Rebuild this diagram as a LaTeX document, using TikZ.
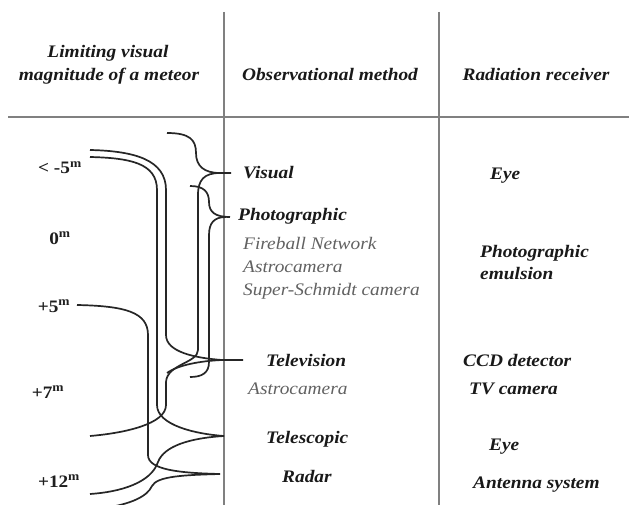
\documentclass[tikz,border=0pt]{standalone}
\usepackage{fontspec}
\setmainfont{Liberation Serif}[FakeStretch=1.1]
\begin{document}
\begin{tikzpicture}[x=1pt,y=-1pt,
  base/.style={inner sep=0pt, text height=12pt, text depth=0pt},
  hd/.style={base, font=\fontsize{17.6}{21}\selectfont\bfseries\itshape, text=black!90},
  mth/.style={hd, anchor=west},
  sub/.style={base, anchor=west, font=\fontsize{17.6}{21}\selectfont\itshape, text=black!62},
  lab/.style={base, font=\fontsize{17.5}{20}\selectfont\bfseries, text=black!88},
  curve/.style={draw=black!85, line width=1.7pt},
  rule/.style={draw=black!50, line width=1.3pt}]
\useasboundingbox (0,0) rectangle (629,505);
\fill[white] (0,0) rectangle (629,505);
\begin{scope}
\clip (0,0) rectangle (629,505);
% table rules
\coordinate (hl) at (8,117); \coordinate (hr) at (629,117);
\coordinate (d1t) at (224,12); \coordinate (d1b) at (224,505);
\coordinate (d2t) at (439,12); \coordinate (d2b) at (439,505);
\draw[rule] (hl) -- (hr);
\draw[rule] (d1t) -- (d1b);
\draw[rule] (d2t) -- (d2b);

% headers
\node[hd] (h1a) at (108,52) {Limiting visual};
\node[hd] (h1b) at (109,75) {magnitude of a meteor};
\node[hd] (h2) at (330,75) {Observational method};
\node[hd] (h3) at (536,75) {Radiation receiver};

% magnitude labels
\node[lab] (m1) at (60,168) {< -5\textsuperscript{m}};
\node[lab] (m2) at (60,238) {0\textsuperscript{m}};
\node[lab] (m3) at (54,306) {+5\textsuperscript{m}};
\node[lab] (m4) at (48,392) {+7\textsuperscript{m}};
\node[lab] (m5) at (59,481) {+12\textsuperscript{m}};

% methods
\node[mth] (vis) at (243,173) {Visual};
\node[mth] (pho) at (238,215) {Photographic};
\node[sub] (fb) at (243,243) {Fireball Network};
\node[sub] (ac1) at (243,266) {Astrocamera};
\node[sub] (ss) at (243,289) {Super-Schmidt camera};
\node[mth] (tv) at (266,360) {Television};
\node[sub] (ac2) at (248,388) {Astrocamera};
\node[mth] (tel) at (266,437) {Telescopic};
\node[mth] (rad) at (282,476) {Radar};

% receivers
\node[mth] (eye1) at (490,174) {Eye};
\node[mth] (pe1) at (480,251) {Photographic};
\node[mth] (pe2) at (480,273) {emulsion};
\node[mth] (ccd) at (463,360) {CCD detector};
\node[mth] (tvc) at (469,388) {TV camera};
\node[mth] (eye2) at (489,444) {Eye};
\node[mth] (ant) at (473,482) {Antenna system};

% brace coordinates
\coordinate (visA) at (167,133);
\coordinate (visTip) at (220,173);
\coordinate (visT) at (231,173);
\coordinate (phoA) at (190,186);
\coordinate (phoTip) at (226,217);
\coordinate (phoT) at (230,217);
\coordinate (phoB) at (190,377);
\coordinate (s1) at (90,150);
\coordinate (s2) at (90,157);
\coordinate (tvTip) at (222,360);
\coordinate (tvT) at (243,360);
\coordinate (tvB) at (167,373);
\coordinate (telTip) at (224,436);
\coordinate (telB) at (90,494);
\coordinate (visB) at (90,436);
\coordinate (s5) at (77,305);
\coordinate (radTip) at (220,474);
\coordinate (radB) at (105,508);

% Visual brace
\draw[curve] (visA) .. controls (190,133) and (196,140) .. (196,153)
  .. controls (196,166) and (204,173) .. (visTip) -- (visT);
\draw[curve] (visTip) .. controls (204,173) and (198,180) .. (198,195)
  -- (198,350) .. controls (198,363) and (167,364) .. (166,382)
  -- (166,405) .. controls (166,424) and (125,433) .. (visB);

% Photographic brace
\draw[curve] (phoA) .. controls (204,186) and (209,192) .. (209,202)
  .. controls (209,212) and (215,217) .. (phoT);
\draw[curve] (phoTip) .. controls (214,217) and (209,223) .. (209,235)
  -- (209,362) .. controls (209,373) and (202,377) .. (phoB);

% Television brace
\draw[curve] (s1) .. controls (135,151) and (166,160) .. (166,190)
  -- (166,335) .. controls (166,352) and (195,358) .. (tvTip) -- (tvT);
\draw[curve] (tvTip) .. controls (200,361) and (178,365) .. (tvB);

% Telescopic brace
\draw[curve] (s2) .. controls (130,158) and (157,163) .. (157,190)
  -- (157,405) .. controls (157,425) and (195,434) .. (telTip);
\draw[curve] (telTip) .. controls (190,438) and (164,446) .. (158,462)
  .. controls (151,483) and (120,492) .. (telB);

% Radar brace
\draw[curve] (s5) .. controls (125,306) and (148,312) .. (148,335)
  -- (148,455) .. controls (148,470) and (180,473) .. (radTip);
\draw[curve] (radTip) .. controls (185,475) and (157,476) .. (152,486)
  .. controls (147,497) and (130,504) .. (radB);
\end{scope}
\end{tikzpicture}
\end{document}
